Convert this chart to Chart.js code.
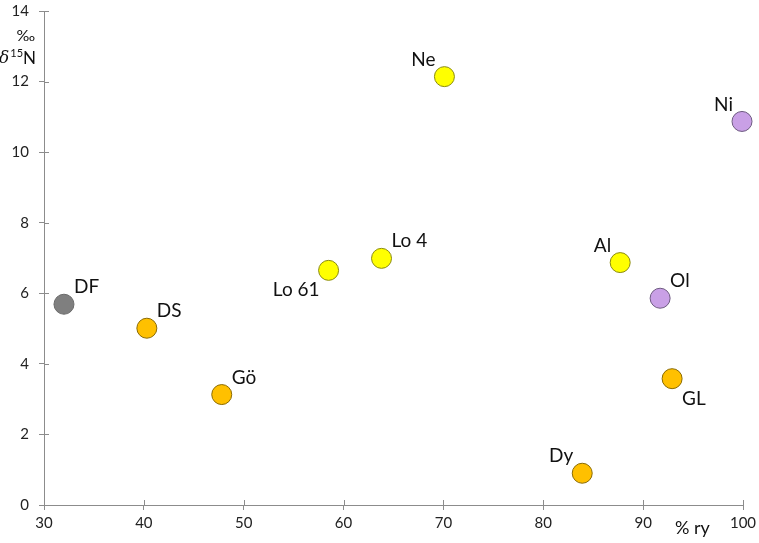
<!DOCTYPE html>
<html><head><meta charset="utf-8">
<script src="https://cdn.jsdelivr.net/npm/chart.js@4"></script>
<style>html,body{margin:0;padding:0;background:#fff}#wrap{width:759px;height:543px}</style>
</head><body><div id="wrap"><canvas id="c" width="759" height="543"></canvas></div>
<script>
const siteNames = ['DF','DS','Gö','Lo 61','Lo 4','Ne','Al','Ol','GL','Dy','Ni'];
const ryPercent = [32.0, 40.3, 47.8, 58.5, 63.8, 70.1, 87.7, 91.7, 92.9, 83.9, 99.9];
const d15N = [5.69, 5.01, 3.13, 6.65, 6.99, 12.14, 6.87, 5.86, 3.58, 0.90, 10.87];
const groups = ['gray','orange','orange','yellow','yellow','yellow','yellow','lilac','orange','orange','lilac'];
const labelSide = ['ne','ne','ne','sw','ne','nw','nw','ne','se','nw','nw'];
const xTicks = [30,40,50,60,70,80,90,100];
const yTicks = [0,2,4,6,8,10,12,14];

const fill = {gray:'#7f7f7f', orange:'#ffc000', yellow:'#ffff00', lilac:'#c9a0e6'};
const edge = {gray:'#6a6a6a', orange:'#8a6a00', yellow:'#8a8a10', lilac:'#6d5a80'};
const FONT = 'Lato, "Liberation Sans", sans-serif';
const AX = '#8c8c8c';

const pts = ryPercent.map((x,i)=>({x:x, y:d15N[i]}));

const decor = {
  id:'decor',
  afterDraw(chart){
    const ctx = chart.ctx, xs = chart.scales.x, ys = chart.scales.y;
    const ca = chart.chartArea;
    ctx.save();
    ctx.strokeStyle = AX; ctx.lineWidth = 1;
    ctx.beginPath();
    xTicks.forEach(v=>{const px=Math.round(xs.getPixelForValue(v))+0.5; ctx.moveTo(px,ca.bottom); ctx.lineTo(px,ca.bottom-5);});
    yTicks.forEach(v=>{const py=Math.round(ys.getPixelForValue(v))+0.5; ctx.moveTo(ca.left,py); ctx.lineTo(ca.left+5,py);});
    ctx.stroke();
    ctx.fillStyle = '#111';
    ctx.font = '19px ' + FONT;
    ctx.textBaseline = 'middle';
    const meta = chart.getDatasetMeta(0);
    meta.data.forEach((el,i)=>{
      const s = labelSide[i];
      const east = s.includes('e');
      const north = s.includes('n');
      ctx.textAlign = east ? 'left' : 'right';
      ctx.fillText(siteNames[i], el.x + (east?10:-9), el.y + (north?-17:20));
    });
    ctx.font = '16px ' + FONT;
    ctx.textAlign = 'right';
    ctx.fillText('‰', 35, 36);
    ctx.textAlign = 'left';
    ctx.font = '17px ' + FONT;
    const wN = ctx.measureText('N').width;
    ctx.font = '11px ' + FONT;
    const w15 = ctx.measureText('15').width;
    ctx.font = 'italic 17px "DejaVu Serif", serif';
    const wd = ctx.measureText('δ').width;
    let x0 = 36 - wN - w15 - wd - 1;
    ctx.fillText('δ', x0, 59);
    ctx.font = '11px ' + FONT;
    ctx.fillText('15', x0 + wd + 1, 53);
    ctx.font = '17px ' + FONT;
    ctx.fillText('N', x0 + wd + 1 + w15, 59);
    ctx.font = '18px ' + FONT;
    ctx.fillText('% ry', 675, 528);
    ctx.restore();
  }
};

new Chart(document.getElementById('c'), {
  type:'scatter',
  data:{datasets:[{
    data: pts,
    backgroundColor: groups.map(g=>fill[g]),
    borderColor: groups.map(g=>edge[g]),
    borderWidth: 1,
    pointRadius: 10,
    pointHoverRadius: 10,
    clip: false
  }]},
  options:{
    responsive:false, animation:false,
    layout:{padding:{top:8, right:16, left:0, bottom:0}},
    plugins:{legend:{display:false}, tooltip:{enabled:false}},
    scales:{
      x:{
        type:'linear', min:30, max:100,
        afterBuildTicks(s){ s.ticks = xTicks.map(v=>({value:v})); },
        afterFit(s){ s.height = 38; s.paddingLeft = 0; s.paddingRight = 0; },
        border:{color:AX, width:1},
        grid:{display:true, drawOnChartArea:false, drawTicks:true, tickLength:5, color:AX},
        ticks:{color:'#222', font:{family:FONT, size:15}, padding:4, maxRotation:0}
      },
      y:{
        type:'linear', min:0, max:14,
        afterBuildTicks(s){ s.ticks = yTicks.map(v=>({value:v})); },
        afterFit(s){ s.width = 44; s.paddingTop = 0; s.paddingBottom = 0; },
        border:{color:AX, width:1},
        grid:{display:true, drawOnChartArea:false, drawTicks:true, tickLength:5, color:AX},
        ticks:{color:'#222', font:{family:FONT, size:15}, padding:10}
      }
    }
  },
  plugins:[decor]
});
</script></body></html>
